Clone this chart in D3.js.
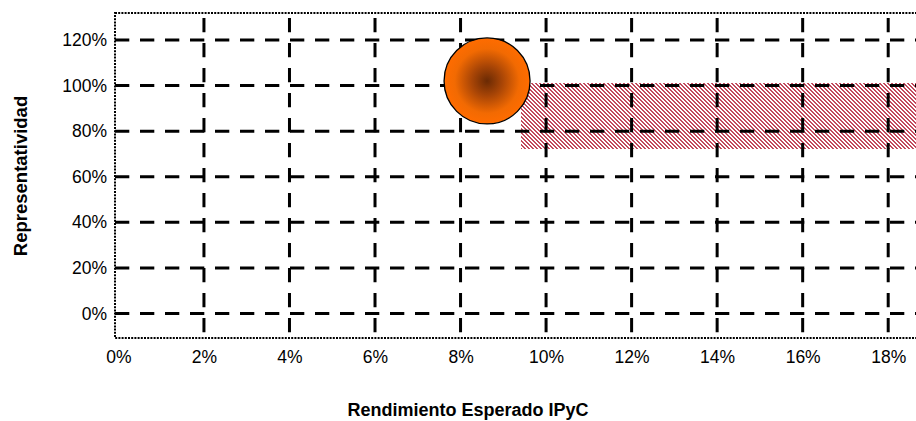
<!DOCTYPE html>
<html>
<head>
<meta charset="utf-8">
<script src="https://cdn.jsdelivr.net/npm/d3@7"></script>
<style>
  body { margin: 0; background: #fff; }
  text { font-family: "Liberation Sans", Arial, sans-serif; }
</style>
</head>
<body>
<div id="chart"></div>
<script>
// values
const xTicks = [0, 2, 4, 6, 8, 10, 12, 14, 16, 18]      // Rendimiento Esperado IPyC (%)
const yTicks = [0, 20, 40, 60, 80, 100, 120]            // Representatividad (%)
const bubbleX = [8.62]
const bubbleY = [102]
const bubbleSize = [1]
const zoneX = [9.42, 19.5]   // shaded target zone, from..to
const zoneY = [72, 101]
const xTitle = 'Rendimiento Esperado IPyC'
const yTitle = 'Representatividad'

const width = 916
const height = 421
// plot box (dotted frame)
const plot = {left: 115, right: 916, top: 13, bottom: 338}
const dash = '14.3,10.7'

const svg = d3.select('#chart').append('svg')
  .attr('width', width)
  .attr('height', height)

const xScale = d3.scaleLinear()
  .domain([-0.08, 18.65])
  .range([plot.left, plot.right])

const yScale = d3.scaleLinear()
  .domain([-10.7, 131.8])
  .range([plot.bottom, plot.top])

const rScale = d3.scaleSqrt()
  .domain([0, d3.max(bubbleSize)])
  .range([0, 43])

const defs = svg.append('defs')

// red/white hatch of the zone
const pat = defs.append('pattern')
  .attr('id', 'hatch')
  .attr('patternUnits', 'userSpaceOnUse')
  .attr('width', 4)
  .attr('height', 4)
pat.append('rect').attr('width', 4).attr('height', 4).attr('fill', '#fff')
d3.range(16).forEach(i => {
  const px = i % 4, py = Math.floor(i / 4)
  if ((px - py + 8) % 4 < 2) {
    pat.append('rect')
      .attr('x', px).attr('y', py)
      .attr('width', 1).attr('height', 1)
      .attr('fill', '#c24a5e')
  }
})

// bubble shading, dark core to orange rim
const grad = defs.append('radialGradient').attr('id', 'ball')
grad.append('stop').attr('offset', '0%').attr('stop-color', '#6a2a04')
grad.append('stop').attr('offset', '35%').attr('stop-color', '#a84506')
grad.append('stop').attr('offset', '75%').attr('stop-color', '#f26a02')
grad.append('stop').attr('offset', '100%').attr('stop-color', '#ff6c00')

defs.append('clipPath').attr('id', 'plotClip')
  .append('rect')
  .attr('x', plot.left).attr('y', plot.top)
  .attr('width', plot.right - plot.left)
  .attr('height', plot.bottom - plot.top)

const area = svg.append('g').attr('clip-path', 'url(#plotClip)')

// shaded zone
area.append('rect')
  .attr('x', Math.round(xScale(zoneX[0])))
  .attr('y', Math.round(yScale(zoneY[1])))
  .attr('width', xScale(zoneX[1]) - xScale(zoneX[0]))
  .attr('height', Math.round(yScale(zoneY[0]) - yScale(zoneY[1])))
  .attr('fill', 'url(#hatch)')

// dashed gridlines
area.selectAll('.hgrid')
  .data(yTicks)
  .join('line')
  .attr('class', 'hgrid')
  .attr('x1', plot.left)
  .attr('x2', plot.right)
  .attr('y1', d => yScale(d))
  .attr('y2', d => yScale(d))
  .attr('stroke', '#000')
  .attr('stroke-width', 3)
  .attr('stroke-dasharray', dash)

area.selectAll('.vgrid')
  .data(xTicks.filter(d => d > 0))
  .join('line')
  .attr('class', 'vgrid')
  .attr('x1', d => xScale(d))
  .attr('x2', d => xScale(d))
  .attr('y1', plot.top)
  .attr('y2', plot.bottom)
  .attr('stroke', '#000')
  .attr('stroke-width', 3)
  .attr('stroke-dasharray', dash)
  .attr('stroke-dashoffset', 20)

// bubble
svg.selectAll('.bubble')
  .data(bubbleX.map((x, i) => ({x: x, y: bubbleY[i], s: bubbleSize[i]})))
  .join('circle')
  .attr('class', 'bubble')
  .attr('cx', d => xScale(d.x))
  .attr('cy', d => yScale(d.y))
  .attr('r', d => rScale(d.s))
  .attr('fill', 'url(#ball)')
  .attr('stroke', '#000')
  .attr('stroke-width', 1.3)

// dotted frame
svg.append('rect')
  .attr('x', plot.left)
  .attr('y', plot.top)
  .attr('width', plot.right - plot.left + 4)
  .attr('height', plot.bottom - plot.top)
  .attr('fill', 'none')
  .attr('stroke', '#000')
  .attr('stroke-width', 2)
  .attr('stroke-dasharray', '2,1.2')

// axes (labels only)
const yAxis = svg.append('g')
  .attr('transform', 'translate(' + (plot.left - 4) + ',0)')
  .call(d3.axisLeft(yScale).tickValues(yTicks).tickSize(0).tickPadding(4).tickFormat(d => d + '%'))
yAxis.select('.domain').remove()

const xAxis = svg.append('g')
  .attr('transform', 'translate(0,' + (plot.bottom + 10) + ')')
  .call(d3.axisBottom(xScale).tickValues(xTicks).tickSize(0).tickPadding(3).tickFormat(d => d + '%'))
xAxis.select('.domain').remove()

svg.selectAll('.tick text')
  .style('font-family', '"Liberation Sans", Arial, sans-serif')
  .style('font-size', '17.5px')
  .attr('fill', '#000')

// titles
svg.append('text')
  .attr('x', 468)
  .attr('y', 416)
  .attr('text-anchor', 'middle')
  .style('font-size', '18px')
  .style('font-weight', 'bold')
  .text(xTitle)

svg.append('text')
  .attr('transform', 'translate(27,' + 176 + ') rotate(-90)')
  .attr('text-anchor', 'middle')
  .style('font-size', '18.5px')
  .style('font-weight', 'bold')
  .text(yTitle)
</script>
</body>
</html>
